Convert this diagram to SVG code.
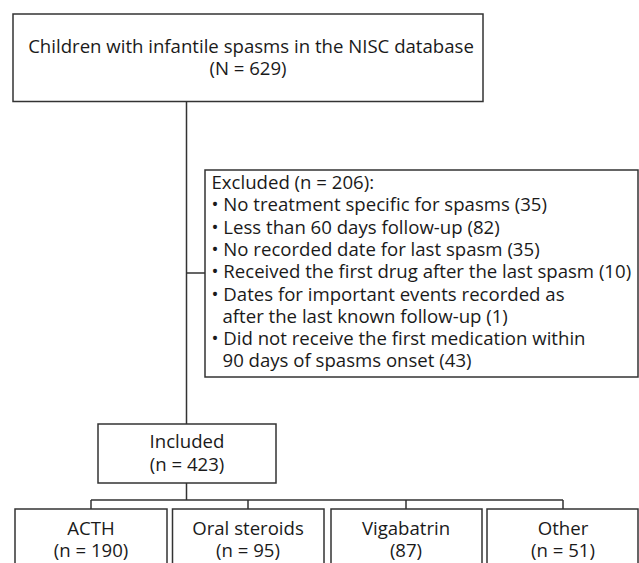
<svg xmlns="http://www.w3.org/2000/svg" width="639" height="563" viewBox="0 0 639 563">
<style>
.box{fill:#fff;stroke:#333;stroke-width:1.5}
.ln{fill:none;stroke:#333;stroke-width:1.5}
text{font-family:"Open Sans","Noto Sans","DejaVu Sans",sans-serif;font-size:18.6px;fill:#1a1a1a}
.c{text-anchor:middle}
</style>
<rect width="639" height="563" fill="#fff"/>
<g id="connectors">
<path class="ln" d="M186.5 101.5V424M186.5 273H205M186.5 483V500M91 500H563M91 500V509M248 500V509M406 500V509M563 500V509"/>
</g>
<g id="n-all">
<rect class="box" x="13" y="14" width="470" height="87.5"/>
<text class="c" x="251" y="53">Children with infantile spasms in the NISC database</text>
<text class="c" x="248" y="75">(N = 629)</text>
</g>
<g id="n-excluded">
<rect class="box" x="205" y="170" width="433" height="207"/>
<text x="211.5" y="189">Excluded (n = 206):</text>
<text x="211.5" y="211.3">• No treatment specific for spasms (35)</text>
<text x="211.5" y="233.6">• Less than 60 days follow-up (82)</text>
<text x="211.5" y="255.9">• No recorded date for last spasm (35)</text>
<text x="211.5" y="278.2">• Received the first drug after the last spasm (10)</text>
<text x="211.5" y="300.5">• Dates for important events recorded as</text>
<text x="222.5" y="322.8">after the last known follow-up (1)</text>
<text x="211.5" y="345.1">• Did not receive the first medication within</text>
<text x="222.5" y="367.4">90 days of spasms onset (43)</text>
</g>
<g id="n-included">
<rect class="box" x="98" y="424" width="178" height="59"/>
<text class="c" x="187" y="448">Included</text>
<text class="c" x="187" y="471">(n = 423)</text>
</g>
<g id="n-acth">
<rect class="box" x="15" y="509" width="152" height="70"/>
<text class="c" x="91" y="535">ACTH</text>
<text class="c" x="91" y="557">(n = 190)</text>
</g>
<g id="n-oral">
<rect class="box" x="172.5" y="509" width="151.5" height="70"/>
<text class="c" x="248" y="535">Oral steroids</text>
<text class="c" x="248" y="557">(n = 95)</text>
</g>
<g id="n-vig">
<rect class="box" x="331" y="509" width="151" height="70"/>
<text class="c" x="406" y="535">Vigabatrin</text>
<text class="c" x="406" y="557">(87)</text>
</g>
<g id="n-other">
<rect class="box" x="487" y="509" width="151" height="70"/>
<text class="c" x="563" y="535">Other</text>
<text class="c" x="563" y="557">(n = 51)</text>
</g>
</svg>
